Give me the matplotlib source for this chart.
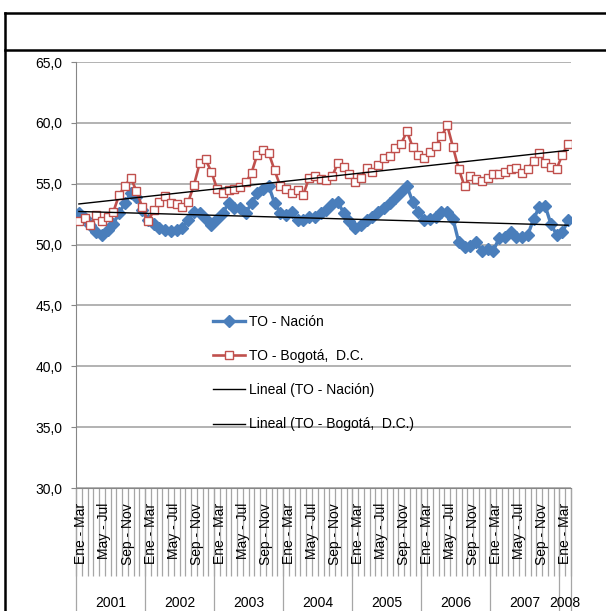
import numpy as np
import matplotlib
matplotlib.use('Agg')
import matplotlib.pyplot as plt
from matplotlib.lines import Line2D
from matplotlib.ticker import FuncFormatter

plt.rcParams['font.family'] = ['Liberation Sans', 'DejaVu Sans']
plt.rcParams['font.size'] = 10

# trimestres moviles (se rotulan uno de cada cuatro)
periodos = ['Ene - Mar', 'Feb - Abr', 'Mar - May', 'Abr - Jun', 'May - Jul', 'Jun - Ago',
            'Jul - Sep', 'Ago - Oct', 'Sep - Nov', 'Oct - Dic', 'Nov - Ene', 'Dic - Feb']
anios = ['2001', '2002', '2003', '2004', '2005', '2006', '2007', '2008']
meses_por_anio = [12, 12, 12, 12, 12, 12, 12, 2]

to_nacion = [52.6, 52.2, 51.6, 51.0, 50.8, 51.2, 51.7, 52.6, 53.4, 54.2, 53.9, 52.8,
             52.0, 51.7, 51.4, 51.2, 51.1, 51.2, 51.4, 52.0, 52.7, 52.6, 52.1, 51.6,
             52.1, 52.6, 53.4, 53.0, 53.0, 52.6, 53.4, 54.2, 54.6, 54.8, 53.4, 52.6,
             52.4, 52.7, 52.0, 52.0, 52.3, 52.3, 52.6, 52.8, 53.3, 53.5, 52.6, 51.9,
             51.4, 51.6, 52.0, 52.3, 52.7, 53.0, 53.4, 53.8, 54.3, 54.8, 53.5, 52.7,
             52.0, 52.1, 52.3, 52.7, 52.7, 52.1, 50.2, 49.8, 49.9, 50.2, 49.5, 49.6,
             49.5, 50.5, 50.6, 51.0, 50.6, 50.6, 50.8, 52.1, 53.1, 53.2, 51.7, 50.8,
             51.0, 52.0]
to_bogota = [51.9, 52.2, 51.6, 52.4, 51.9, 52.3, 52.7, 54.1, 54.8, 55.5, 54.4, 53.1,
             51.9, 52.8, 53.5, 54.0, 53.4, 53.3, 53.1, 53.5, 54.9, 56.7, 57.0, 56.0,
             54.6, 54.2, 54.5, 54.6, 54.7, 55.1, 55.9, 57.4, 57.8, 57.5, 56.1, 54.8,
             54.6, 54.2, 54.5, 54.1, 55.5, 55.6, 55.4, 55.3, 55.6, 56.7, 56.4, 55.8,
             55.1, 55.5, 56.3, 56.0, 56.5, 57.1, 57.3, 57.9, 58.3, 59.3, 58.0, 57.4,
             57.1, 57.6, 58.1, 58.9, 59.8, 58.0, 56.2, 54.8, 55.6, 55.4, 55.2, 55.5,
             55.8, 55.8, 56.0, 56.2, 56.3, 55.9, 56.2, 56.9, 57.5, 56.7, 56.4, 56.2,
             57.4, 58.3]

W, H = 606, 611
fig = plt.figure(figsize=(W / 100, H / 100), dpi=100)
ax = fig.add_axes([76 / W, 1 - 488 / H, (571 - 76) / W, (488 - 62) / H])

x = np.arange(len(to_nacion))
azul = '#4A7EBB'
rojo = '#C0504D'
gris = '#A6A6A6'

l1, = ax.plot(x, to_nacion, color=azul, lw=2.4, marker='D', ms=6.5,
              mfc=azul, mec=azul, label='TO - Nación', zorder=3)
l2, = ax.plot(x, to_bogota, color=rojo, lw=1.9, marker='s', ms=5.4,
              mfc='white', mec=rojo, mew=1.0, label='TO - Bogotá,  D.C.', zorder=4)

# lineas de tendencia (regresion lineal, como en Excel)
xt = np.array([x[0], x[-1]])
p1 = np.polyfit(x, to_nacion, 1)
p2 = np.polyfit(x, to_bogota, 1)
l3, = ax.plot(xt, np.polyval(p1, xt), color='black', lw=1.0,
              label='Lineal (TO - Nación)', zorder=5)
l4, = ax.plot(xt, np.polyval(p2, xt), color='black', lw=1.0,
              label='Lineal (TO - Bogotá,  D.C.)', zorder=5)

ax.set_xlim(-0.5, len(x) - 0.5)
ax.set_ylim(30, 65)
ax.set_yticks(np.arange(30, 66, 5))
ax.yaxis.set_major_formatter(FuncFormatter(lambda v, p: f'{v:.1f}'.replace('.', ',')))
ax.yaxis.grid(True, color=gris, lw=1.2)
ax.set_axisbelow(True)
ax.tick_params(axis='y', direction='out', length=3.6, color='#868686', pad=6)
ax.set_xticks([])
for s in ['top', 'right']:
    ax.spines[s].set_visible(False)
ax.spines['left'].set_color('#868686')
ax.spines['bottom'].set_color('#868686')

# eje de categorias en dos niveles
trans = ax.get_xaxis_transform()
ax.vlines(np.arange(-0.5, len(x)), -88 / 426, 0, transform=trans,
          colors=gris, lw=0.9, clip_on=False)
bordes = np.concatenate([[0], np.cumsum(meses_por_anio)]) - 0.5
ax.vlines(bordes, -0.3, 0, transform=trans, colors=gris, lw=0.9, clip_on=False)
for i in range(0, len(x), 4):
    ax.text(i + 0.45, -15 / 426, periodos[i % 12], rotation=90, ha='center',
            va='top', transform=trans)
for k, a in enumerate(anios):
    ax.text((bordes[k] + bordes[k + 1]) / 2, -(603 - 488) / 426, a,
            ha='center', va='center', transform=trans)

ax.legend(handles=[l1, l2, l3, l4], loc='upper left', frameon=False,
          bbox_to_anchor=(213 / W, 1 - 315 / H), bbox_transform=fig.transFigure,
          borderaxespad=0, borderpad=0, labelspacing=1.45, handlelength=2.3,
          handletextpad=0.3)

# marco del grafico
for xs, ys in [([5 / W, 1], [1 - 13 / H] * 2),
               ([5 / W, 1], [1 - 50 / H] * 2),
               ([5 / W] * 2, [1 - 13 / H, 0])]:
    fig.add_artist(Line2D(xs, ys, color='black', lw=1.8, transform=fig.transFigure))

fig.savefig('out.png', dpi=100)
